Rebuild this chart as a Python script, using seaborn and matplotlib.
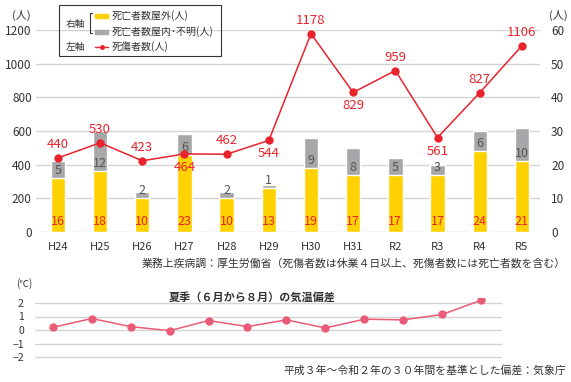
import numpy as np
import pandas as pd
import matplotlib.pyplot as plt
import matplotlib.patches as mpatches
import matplotlib.lines as mlines
import seaborn as sns

# data
years = ['H24', 'H25', 'H26', 'H27', 'H28', 'H29', 'H30', 'H31', 'R2', 'R3', 'R4', 'R5']
deaths_outdoor = [16, 18, 10, 23, 10, 13, 19, 17, 17, 17, 24, 21]
deaths_indoor = [5, 12, 2, 6, 2, 1, 9, 8, 5, 3, 6, 10]
casualties = [440, 530, 423, 464, 462, 544, 1178, 829, 959, 561, 827, 1106]
label_side = ['up', 'up', 'up', 'down', 'up', 'down', 'up', 'down', 'up', 'down', 'up', 'up']
temp_anomaly = [0.2, 0.85, 0.25, -0.05, 0.7, 0.25, 0.75, 0.15, 0.8, 0.75, 1.15, 2.2]

YELLOW = '#ffd100'
GRAY = '#a7a7a9'
RED = '#e8232c'
PINK = '#ea5b78'
GRID = '#d4d4d4'

sns.set_theme(style='white')
plt.rcParams['font.family'] = ['Noto Sans CJK JP', 'DejaVu Sans']

W, H = 571, 382
fig = plt.figure(figsize=(W / 100, H / 100), dpi=100)

def box(x0, y0, x1, y1):
    # pixel box (top-left origin) -> figure fraction rect
    return [x0 / W, 1 - y1 / H, (x1 - x0) / W, (y1 - y0) / H]

df = pd.DataFrame({'year': years, 'outdoor': deaths_outdoor, 'indoor': deaths_indoor,
                   'casualties': casualties, 'temp': temp_anomaly})
df['total'] = df['outdoor'] + df['indoor']
pos = np.arange(len(df))

# ---- top chart: bars on right axis, line on left axis ----
ax = fig.add_axes(box(36, 30, 540, 232))
sns.barplot(data=df, x='year', y='total', color=GRAY, width=0.34, saturation=1, ax=ax, zorder=2)
sns.barplot(data=df, x='year', y='outdoor', color=YELLOW, width=0.34, saturation=1, ax=ax, zorder=3)
ax.set_xlim(-0.52, 11.43)
ax.set_ylim(0, 60)
ax.set_yticks(range(0, 61, 10))
ax.grid(axis='y', color=GRID, lw=1, zorder=0)
ax.set_axisbelow(True)
ax.set_xlabel('')
ax.set_ylabel('')
for s in ax.spines.values():
    s.set_visible(False)

for i, r in df.iterrows():
    ax.text(i, 3, str(r['outdoor']), ha='center', va='center', color=RED, fontsize=9, zorder=5)
    ax.text(i, r['outdoor'] + 2.2, str(r['indoor']), ha='center', va='center',
            color='#555', fontsize=9, zorder=5)

axl = ax.twinx()
sns.lineplot(x=pos, y=df['casualties'], ax=axl, color=RED, lw=1.1, marker='o',
             markersize=6, markeredgewidth=0)
# twinx moves the host ticks to the left, so swap them back
ax.yaxis.tick_right()
axl.yaxis.tick_left()
ax.tick_params(axis='y', length=0, pad=8, labelsize=8.5, labelcolor='#333')
ax.tick_params(axis='x', length=0, pad=7, labelsize=8, labelcolor='#333')
axl.set_ylim(0, 1200)
axl.set_yticks(range(0, 1201, 200))
axl.tick_params(axis='y', length=0, pad=3, labelsize=8.5, labelcolor='#333')
axl.set_ylabel('')
for s in axl.spines.values():
    s.set_visible(False)
for i, (v, side) in enumerate(zip(casualties, label_side)):
    dy, va = (5, 'bottom') if side == 'up' else (-5, 'top')
    axl.annotate(str(v), (i, v), xytext=(0, dy), textcoords='offset points',
                 ha='center', va=va, color=RED, fontsize=9.5)

fig.text(12 / W, 1 - 15 / H, '(人)', fontsize=8, color='#333', va='center')
fig.text(568 / W, 1 - 15 / H, '(人)', fontsize=8, color='#333', va='center', ha='right')

# legend box
tf = fig.transFigure
fig.patches.append(mpatches.Rectangle((59 / W, 1 - 56 / H), 162 / W, 51 / H, transform=tf,
                                      fill=False, ec='#333', lw=0.8))
fig.text(66 / W, 1 - 24 / H, '右軸', fontsize=7, color='#333', va='center')
fig.text(66 / W, 1 - 47 / H, '左軸', fontsize=7, color='#333', va='center')
fig.lines.append(mlines.Line2D([92 / W, 90 / W, 90 / W, 92 / W],
                               [1 - 13 / H, 1 - 13 / H, 1 - 33 / H, 1 - 33 / H],
                               transform=tf, color='#333', lw=0.8))
fig.patches.append(mpatches.Rectangle((95 / W, 1 - 18 / H), 13 / W, 4 / H, transform=tf, color=YELLOW))
fig.patches.append(mpatches.Rectangle((95 / W, 1 - 34 / H), 13 / W, 4 / H, transform=tf, color=GRAY))
fig.lines.append(mlines.Line2D([95 / W, 108 / W], [1 - 47 / H, 1 - 47 / H], transform=tf,
                               color=RED, lw=1))
fig.lines.append(mlines.Line2D([101.5 / W], [1 - 47 / H], transform=tf, color=RED,
                               marker='o', markersize=3.5, markeredgewidth=0))
fig.text(112 / W, 1 - 16 / H, '死亡者数屋外(人)', fontsize=7.2, color='#333', va='center')
fig.text(112 / W, 1 - 32 / H, '死亡者数屋内･不明(人)', fontsize=7.2, color='#333', va='center')
fig.text(112 / W, 1 - 47 / H, '死傷者数(人)', fontsize=7.2, color='#333', va='center')

fig.text(566 / W, 1 - 263 / H, '業務上疾病調：厚生労働省（死傷者数は休業４日以上、死傷者数には死亡者数を含む）',
         fontsize=7.8, color='#333', ha='right', va='center')

# ---- bottom chart: summer temperature anomaly ----
ax3 = fig.add_axes(box(35, 297.6, 502, 359.7))
sns.lineplot(x=pos, y=df['temp'], ax=ax3, color=PINK, lw=1.1, marker='o',
             markersize=6, markeredgewidth=0, zorder=3)
ax3.set_xlim(-0.46, 11.54)
ax3.set_ylim(-2.2, 2.4)
ax3.set_yticks([-2, -1, 0, 1, 2])
ax3.set_xticks([])
ax3.grid(axis='y', color=GRID, lw=1)
ax3.set_ylabel('')
ax3.tick_params(axis='y', length=0, pad=8, labelsize=7.5, labelcolor='#333')
for s in ax3.spines.values():
    s.set_visible(False)
ax3.patch.set_visible(False)

fig.text(16 / W, 1 - 284 / H, '(℃)', fontsize=7, color='#333', va='center')
fig.text(252 / W, 1 - 297 / H, '夏季（６月から８月）の気温偏差', fontsize=8, fontweight='bold',
         color='#333', ha='center', va='center')
fig.text(566 / W, 1 - 370 / H, '平成３年～令和２年の３０年間を基準とした偏差：気象庁',
         fontsize=7.8, color='#333', ha='right', va='center')

fig.savefig('out.png', dpi=100)
